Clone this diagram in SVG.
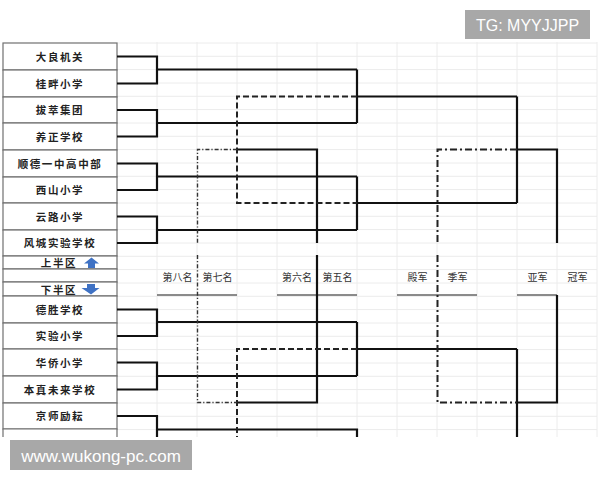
<svg xmlns="http://www.w3.org/2000/svg" width="600" height="480" viewBox="0 0 600 480">
<defs>
<style>
.grid{stroke:#ececec;stroke-width:1;fill:none}
.cell{fill:#fff;stroke:#707070;stroke-width:1.2}
.team{font-family:"Noto Sans CJK SC","Liberation Sans",sans-serif;font-size:10.5px;font-weight:bold;fill:#222;text-anchor:middle;letter-spacing:1.6px}
.lab{font-family:"Noto Sans CJK SC","Liberation Sans",sans-serif;font-size:10px;fill:#333;text-anchor:middle}
.s{stroke:#111;stroke-width:2.2;fill:none}
.d{stroke:#222;stroke-width:2;fill:none;stroke-dasharray:6 3}
.dd{stroke:#333;stroke-width:1.4;fill:none;stroke-dasharray:4 2 1.2 2}
.dc{stroke:#222;stroke-width:2;fill:none;stroke-dasharray:7 3 2 3}
.ul{stroke:#666;stroke-width:1.5;fill:none}
.arr{fill:#3f72c4}
.wm{fill:#a8a8a8}
.wmt{font-family:"Liberation Sans",Arial,sans-serif;fill:#fff}
</style>
</defs>
<rect width="600" height="480" fill="#fff"/>
<g id="grid" class="grid">
<path d="M157 42V437M197 42V437M237 42V437M277 42V437M317 42V437M357 42V437M397 42V437M437 42V437M477 42V437M517 42V437M557 42V437M597 42V437"/>
<path d="M117 43H597M117 56.3H597M117 69.6H597M117 83H597M117 96.3H597M117 109.6H597M117 123H597M117 136.3H597M117 149.6H597M117 163H597M117 176.3H597M117 189.6H597M117 203H597M117 216.3H597M117 229.6H597M117 243H597M117 256.3H597M117 269.6H597M117 283H597M117 296.3H597M117 309.6H597M117 323H597M117 336.3H597M117 349.6H597M117 363H597M117 376.3H597M117 389.6H597M117 403H597M117 416.3H597M117 429.6H597"/>
</g>
<g id="table">
<g id="t1"><rect class="cell" x="3" y="43" width="114" height="27"/><text class="team" x="60" y="60.5">大良机关</text></g>
<g id="t2"><rect class="cell" x="3" y="70" width="114" height="27"/><text class="team" x="60" y="87.5">桂畔小学</text></g>
<g id="t3"><rect class="cell" x="3" y="97" width="114" height="26"/><text class="team" x="60" y="114">拔萃集团</text></g>
<g id="t4"><rect class="cell" x="3" y="123" width="114" height="27"/><text class="team" x="60" y="140.5">养正学校</text></g>
<g id="t5"><rect class="cell" x="3" y="150" width="114" height="27"/><text class="team" x="60" y="167.5">顺德一中高中部</text></g>
<g id="t6"><rect class="cell" x="3" y="177" width="114" height="26"/><text class="team" x="60" y="194">西山小学</text></g>
<g id="t7"><rect class="cell" x="3" y="203" width="114" height="27"/><text class="team" x="60" y="220.5">云路小学</text></g>
<g id="t8"><rect class="cell" x="3" y="230" width="114" height="26"/><text class="team" x="60" y="247">风城实验学校</text></g>
<g id="upper"><rect class="cell" x="3" y="256" width="114" height="13"/><text class="team" x="59" y="267">上半区</text><path class="arr" d="M91.5 257.5L99 263.5H95V268H88V263.5H84Z"/></g>
<g id="blank"><rect class="cell" x="3" y="269" width="114" height="13"/></g>
<g id="lower"><rect class="cell" x="3" y="282" width="114" height="14"/><text class="team" x="59" y="294">下半区</text><path class="arr" d="M87 284H95V288H99.5L91 294.5L81.5 288H87Z"/></g>
<g id="b1"><rect class="cell" x="3" y="296" width="114" height="27"/><text class="team" x="60" y="313.5">德胜学校</text></g>
<g id="b2"><rect class="cell" x="3" y="323" width="114" height="26"/><text class="team" x="60" y="340">实验小学</text></g>
<g id="b3"><rect class="cell" x="3" y="349" width="114" height="27"/><text class="team" x="60" y="366.5">华侨小学</text></g>
<g id="b4"><rect class="cell" x="3" y="376" width="114" height="27"/><text class="team" x="60" y="393.5">本真未来学校</text></g>
<g id="b5"><rect class="cell" x="3" y="403" width="114" height="26"/><text class="team" x="60" y="420">京师励耘</text></g>
<g id="b6"><path class="cell" d="M3 437V429H117V437" fill="none"/></g>
</g>
<g id="labels">
<g id="l8"><text class="lab" x="177.5" y="281">第八名</text></g>
<g id="l7"><text class="lab" x="217.5" y="281">第七名</text></g>
<g id="l6"><text class="lab" x="297" y="281">第六名</text></g>
<g id="l5"><text class="lab" x="337.5" y="281">第五名</text></g>
<g id="l4"><text class="lab" x="417.5" y="281">殿军</text></g>
<g id="l3"><text class="lab" x="457.5" y="281">季军</text></g>
<g id="l2"><text class="lab" x="537.5" y="281">亚军</text></g>
<g id="l1"><text class="lab" x="577.5" y="281">冠军</text></g>
<path class="ul" d="M157 295H237M277 295H357M397 295H477M517 295H557"/>
</g>
<g id="connectors">
<path class="s" d="M117 56.5H157V83.5H117M157 69.5H357"/>
<path class="s" d="M117 110H157V136.5H117M157 123H357"/>
<path class="s" d="M117 163.5H157V190H117M157 176.5H357"/>
<path class="s" d="M117 216.5H157V243H117M157 230H357"/>
<path class="s" d="M357 69.5V123M357 96.5H517M357 176.5V230M357 203H517M517 96.5V203M517 149.5H557V243"/>
<path class="s" d="M117 309.5H157V336H117M157 322H357"/>
<path class="s" d="M117 362.5H157V389.5H117M157 376H357"/>
<path class="s" d="M117 416H157V437M157 429.5H357V437"/>
<path class="s" d="M357 322V376M357 349H517M517 349V437M517 402.5H557V295"/>
<path class="s" d="M237 149.5H317V243M317 255V402.5H237"/>
<path class="d" d="M357 96.5H237V203H357"/>
<path class="d" d="M357 349H237V437"/>
<path class="dd" d="M237 149.5H197.5V243M197.5 255V402.5H237"/>
<path class="dc" d="M517 149.5H437.5V243M437.5 255V402.5H517"/>
</g>
<g id="watermarks">
<rect class="wm" x="465" y="10" width="125" height="29"/>
<text class="wmt" x="527.5" y="31" font-size="16" text-anchor="middle">TG: MYYJJPP</text>
<rect class="wm" x="10" y="440" width="182" height="30"/>
<text class="wmt" x="101" y="462" font-size="17" text-anchor="middle">www.wukong-pc.com</text>
</g>
</svg>
